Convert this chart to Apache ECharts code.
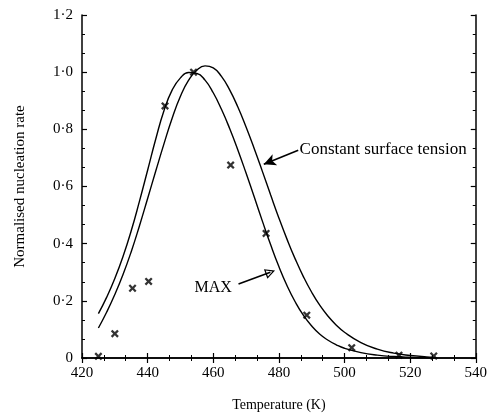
<!DOCTYPE html>
<html><head><meta charset="utf-8">
<script src="https://cdn.jsdelivr.net/npm/echarts@6/dist/echarts.min.js"></script>
<style>html,body{margin:0;padding:0;background:#fff}#c{width:490px;height:417px}</style>
</head><body><div id="c"></div>
<script>
// Temperature (K) and normalised nucleation rate
const maxCurveT = [425,427.5,430,432.5,435,437.5,440,442.5,445,447.5,450,452.5,455,457.5,460,462.5,465,467.5,470,472.5,475,477.5,480,482.5,485,487.5,490,492.5,495,497.5,500,505,510,515,520,527];
const maxCurveV = [0.155,0.212,0.278,0.355,0.445,0.548,0.657,0.767,0.866,0.938,0.980,0.999,0.996,0.972,0.928,0.870,0.803,0.728,0.647,0.563,0.478,0.396,0.320,0.253,0.196,0.149,0.112,0.083,0.062,0.046,0.034,0.019,0.010,0.005,0.0025,0.0005];
const cstCurveT = [425,427.5,430,432.5,435,437.5,440,442.5,445,447.5,450,452.5,455,457.5,460,462.5,465,467.5,470,472.5,475,477.5,480,482.5,485,487.5,490,492.5,495,497.5,500,505,510,515,520,525,527];
const cstCurveV = [0.105,0.160,0.222,0.292,0.372,0.462,0.558,0.655,0.750,0.840,0.916,0.972,1.007,1.022,1.015,0.985,0.938,0.878,0.808,0.732,0.652,0.570,0.490,0.415,0.346,0.284,0.230,0.184,0.146,0.115,0.090,0.054,0.031,0.017,0.009,0.004,0.003];
const expT = [425,430,435.4,440.3,445.3,454,465.3,476.1,488.5,502.2,516.6,527.2];
const expV = [0.006,0.085,0.244,0.268,0.882,1.0,0.675,0.436,0.15,0.036,0.01,0.007];
const xTicks = [420,440,460,480,500,520,540];
const yTicks = [0,0.2,0.4,0.6,0.8,1.0,1.2];

const font = 'Liberation Serif';
const zip = (a,b)=>a.map((v,i)=>[v,b[i]]);
const fmtY = v => Math.abs(v)<1e-9 ? '0' : v.toFixed(1).replace('.','\u00B7');
const axisLine = {show:true, lineStyle:{color:'#000', width:1.5}};
const tick = {show:true, inside:true, length:5, lineStyle:{color:'#000', width:1.2}};
const minor = {show:true, splitNumber:3, length:3, lineStyle:{color:'#000', width:1}};
const cross = 'path://M0,2 L2,0 L5,3 L8,0 L10,2 L7,5 L10,8 L8,10 L5,7 L2,10 L0,8 L3,5 Z';
const openHead = 'path://M0,0 L10,20 L-10,20 Z M0,5.5 L-6.5,17.5 L6.5,17.5 Z';

const chart = echarts.init(document.getElementById('c'));
chart.setOption({
  animation:false,
  backgroundColor:'#fff',
  grid:{left:82, right:13, top:15, bottom:54},
  xAxis:[{
    type:'value', min:xTicks[0], max:xTicks[xTicks.length-1], interval:20,
    name:'Temperature (K)', nameLocation:'middle', nameGap:40,
    nameTextStyle:{fontFamily:font, fontSize:14, color:'#000'},
    axisLine, axisTick:tick, minorTick:minor, splitLine:{show:false},
    axisLabel:{fontFamily:font, fontSize:15, color:'#000', margin:8}
  },{
    type:'value', position:'top', min:420, max:540, interval:20,
    axisLine, axisTick:tick, minorTick:minor, splitLine:{show:false}, axisLabel:{show:false}
  }],
  yAxis:[{
    type:'value', min:yTicks[0], max:yTicks[yTicks.length-1], interval:0.2,
    name:'Normalised nucleation rate', nameLocation:'middle', nameGap:54,
    nameTextStyle:{fontFamily:font, fontSize:15, color:'#000'},
    axisLine, axisTick:tick, minorTick:minor, splitLine:{show:false},
    axisLabel:{fontFamily:font, fontSize:15, color:'#000', margin:9, formatter:fmtY}
  },{
    type:'value', position:'right', min:0, max:1.2, interval:0.2,
    axisLine, axisTick:tick, minorTick:minor, splitLine:{show:false}, axisLabel:{show:false}
  }],
  series:[
    {type:'line', name:'MAX', data:zip(maxCurveT,maxCurveV), smooth:0.5, showSymbol:false,
     lineStyle:{color:'#000', width:1.4}},
    {type:'line', name:'Constant surface tension', data:zip(cstCurveT,cstCurveV), smooth:0.5, showSymbol:false,
     lineStyle:{color:'#000', width:1.4}},
    {type:'scatter', data:zip(expT,expV), symbol:cross, symbolSize:8, itemStyle:{color:'#000'}, z:5},
    {type:'line', data:[], markLine:{silent:true, symbol:['none','arrow'], symbolSize:[9,12],
      lineStyle:{color:'#000', width:1.6, type:'solid'}, label:{show:false},
      data:[
        [{coord:[485.9,0.727], symbol:'none'},{coord:[475.4,0.678], symbol:'arrow', symbolSize:[9,12]}],
        [{coord:[467.7,0.259], symbol:'none'},{coord:[477.4,0.300], symbol:openHead, symbolSize:[10,10]}]
      ]}}
  ]
});
const p1 = chart.convertToPixel({xAxisIndex:0,yAxisIndex:0},[486.3,0.725]);
const p2 = chart.convertToPixel({xAxisIndex:0,yAxisIndex:0},[454.3,0.241]);
chart.setOption({graphic:[
  {type:'text', left:p1[0], top:p1[1]-10, style:{text:'Constant surface tension', font:'17px "Liberation Serif"', fill:'#000'}},
  {type:'text', left:p2[0], top:p2[1]-9, style:{text:'MAX', font:'16px "Liberation Serif"', fill:'#000'}}
]});
</script></body></html>
